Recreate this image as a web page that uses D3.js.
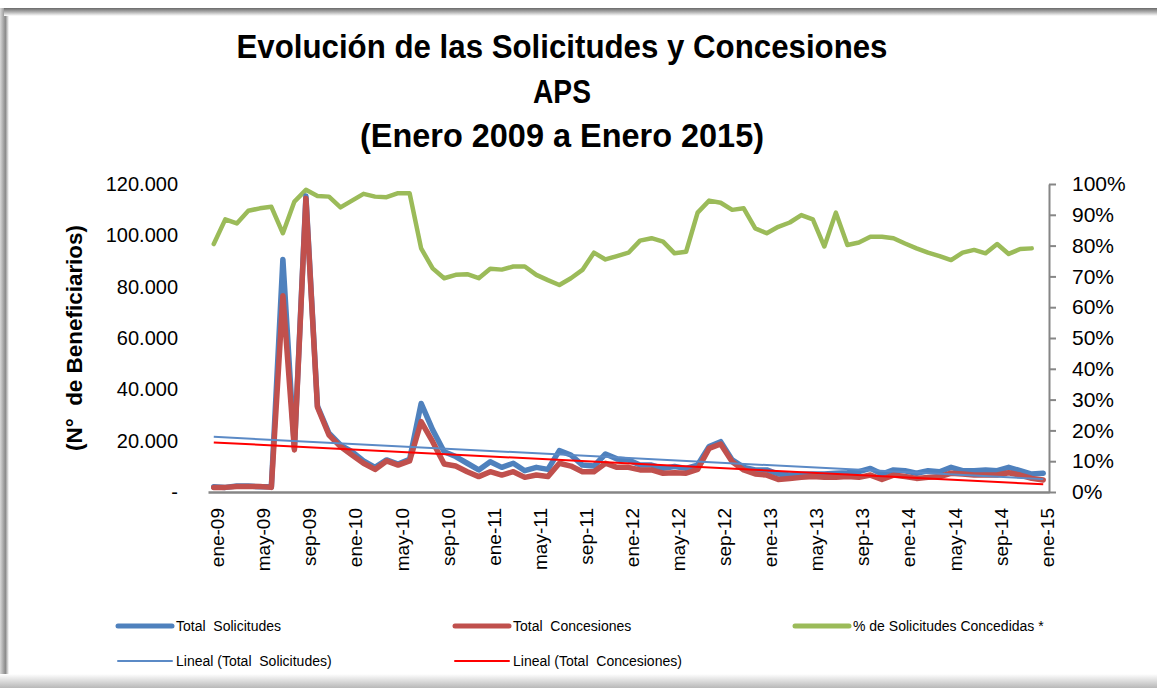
<!DOCTYPE html>
<html>
<head>
<meta charset="utf-8">
<script src="https://cdn.jsdelivr.net/npm/d3@7"></script>
<style>
  body { margin: 0; background: #fff; }
  text { font-family: "Liberation Sans", Arial, sans-serif; fill: #000; white-space: pre; }
</style>
</head>
<body>
<div id="chart"></div>
<script>
// categories: ene-09 .. ene-15
const monthNames = ['ene', 'feb', 'mar', 'abr', 'may', 'jun', 'jul', 'ago', 'sep', 'oct', 'nov', 'dic'];
const years = ['09', '10', '11', '12', '13', '14', '15'];
const tickLabels = ['ene-09', 'may-09', 'sep-09', 'ene-10', 'may-10', 'sep-10', 'ene-11', 'may-11', 'sep-11',
  'ene-12', 'may-12', 'sep-12', 'ene-13', 'may-13', 'sep-13', 'ene-14', 'may-14', 'sep-14', 'ene-15'];

const solicitudes = [
  2000, 1800, 2300, 2300, 2000, 2000, 90600, 17000, 115300, 33500,
  22900, 18300, 15700, 12100, 9600, 12500, 10900, 12700, 34500, 24200,
  15700, 13800, 11200, 8600, 11800, 9600, 11200, 8300, 9600, 8800,
  16100, 14400, 10500, 10100, 14800, 12900, 12500, 10500, 10500, 9200,
  9900, 9200, 10500, 17700, 19600, 12500, 9600, 8600, 8600, 7000,
  6600, 6900, 7000, 7000, 7300, 7500, 7900, 9200, 7000, 8600,
  8300, 7300, 8300, 7900, 9600, 8300, 8300, 8600, 8300, 9600,
  8300, 7000, 7300
];
const concesiones = [
  1800, 1800, 2100, 2100, 2100, 1800, 76500, 16400, 114400, 33000,
  22200, 17700, 14400, 11200, 8800, 12100, 10500, 12100, 27400, 19600,
  10900, 10100, 7900, 6000, 7900, 6600, 7900, 5700, 6600, 6000,
  11200, 10100, 7900, 7900, 11200, 9600, 9600, 8600, 8600, 7300,
  7500, 7300, 8800, 17000, 18700, 11800, 8600, 7000, 6600, 4900,
  5300, 5700, 6000, 5700, 5700, 6000, 5700, 6600, 4900, 6600,
  6000, 5300, 5700, 6000, 7300, 7000, 6600, 6600, 6600, 7500,
  6600, 5300, 4700
];
// % de solicitudes concedidas (ene-09 .. dic-14)
const pctConcedidas = [
  80.5, 88.5, 87.2, 91.3, 92.1, 92.6, 84.0, 94.3, 98.1, 96.1,
  95.9, 92.4, 94.6, 96.8, 95.9, 95.7, 97.0, 97.0, 79.1, 72.6,
  69.4, 70.5, 70.7, 69.4, 72.5, 72.2, 73.2, 73.2, 70.5, 68.8,
  67.2, 69.4, 72.1, 77.7, 75.5, 76.6, 77.7, 81.6, 82.4, 81.3,
  77.5, 78.0, 90.7, 94.6, 93.9, 91.6, 92.1, 85.6, 84.0, 86.1,
  87.5, 89.9, 88.5, 79.7, 90.7, 80.2, 81.0, 82.9, 82.9, 82.4,
  80.7, 79.1, 77.7, 76.6, 75.3, 77.7, 78.6, 77.5, 80.5, 77.3,
  78.9, 79.1
];
const leftTicks = [0, 20000, 40000, 60000, 80000, 100000, 120000];
const rightTicks = [0, 10, 20, 30, 40, 50, 60, 70, 80, 90, 100];

const categories = [];
years.forEach(y => monthNames.forEach(m => categories.push(`${m}-${y}`)));
categories.length = solicitudes.length;

const W = 1157, H = 688;
const plot = { left: 208, right: 1049, top: 184, bottom: 492 };

const svg = d3.select('#chart').append('svg')
  .attr('width', W)
  .attr('height', H);

// frame with shaded edges
const defs = svg.append('defs');
const grad = (id, x1, y1, x2, y2, stops) => {
  const g = defs.append('linearGradient').attr('id', id)
    .attr('x1', x1).attr('y1', y1).attr('x2', x2).attr('y2', y2);
  stops.forEach(s => g.append('stop').attr('offset', s[0]).attr('stop-color', s[1]));
};
grad('gTop', 0, 0, 0, 1, [[0, '#6a6a6a'], [0.5, '#b0b0b0'], [1, '#ffffff']]);
grad('gLeft', 0, 0, 1, 0, [[0, '#d8d8d8'], [0.6, '#8a8a8a'], [1, '#ffffff']]);
grad('gBottom', 0, 0, 0, 1, [[0, '#ffffff'], [1, '#b8b8b8']]);

svg.append('rect').attr('width', W).attr('height', H).attr('fill', '#fff');
svg.append('rect').attr('x', 0).attr('y', 8).attr('width', 9).attr('height', H - 8).attr('fill', 'url(#gLeft)');
svg.append('rect').attr('x', 4).attr('y', 8).attr('width', W - 4).attr('height', 8).attr('fill', 'url(#gTop)');
svg.append('rect').attr('x', 0).attr('y', 674).attr('width', W).attr('height', 14).attr('fill', 'url(#gBottom)');

// title
const titleLines = [
  { text: 'Evolución de las Solicitudes y Concesiones', y: 58, len: 651 },
  { text: 'APS', y: 103, len: 58 },
  { text: '(Enero 2009 a Enero 2015)', y: 147, len: 404 }
];
svg.append('g').selectAll('text')
  .data(titleLines)
  .enter().append('text')
  .attr('x', 562)
  .attr('y', d => d.y)
  .attr('text-anchor', 'middle')
  .attr('font-size', 33)
  .attr('font-weight', 'bold')
  .attr('textLength', d => d.len)
  .attr('lengthAdjust', 'spacingAndGlyphs')
  .text(d => d.text);

// scales
const x = d3.scaleBand()
  .domain(categories)
  .range([plot.left, plot.right]);
const cx = c => x(c) + x.bandwidth() / 2;

const yLeft = d3.scaleLinear()
  .domain([0, 120000])
  .range([plot.bottom, plot.top]);

const yRight = d3.scaleLinear()
  .domain([0, 100])
  .range([plot.bottom, plot.top]);

const esLocale = d3.formatLocale({ decimal: ',', thousands: '.', grouping: [3], currency: ['', ''] });
const fmtLeft = v => v === 0 ? '-' : esLocale.format(',')(v);

// left axis (no line)
const leftAxis = svg.append('g')
  .attr('transform', `translate(${plot.left - 30},0)`)
  .call(d3.axisLeft(yLeft).tickValues(leftTicks).tickFormat(fmtLeft).tickSize(0).tickPadding(0));
leftAxis.select('.domain').remove();
leftAxis.selectAll('text')
  .attr('font-family', '"Liberation Sans", Arial, sans-serif')
  .attr('font-size', 20)
  .attr('fill', '#000');

svg.append('text')
  .attr('transform', `translate(82,${(plot.top + plot.bottom) / 2}) rotate(-90)`)
  .attr('text-anchor', 'middle')
  .attr('font-size', 22)
  .attr('font-weight', 'bold')
  .attr('textLength', 226)
  .attr('lengthAdjust', 'spacingAndGlyphs')
  .text('(N°  de Beneficiarios)');

// right axis
const rightAxis = svg.append('g')
  .attr('transform', `translate(${plot.right},0)`)
  .call(d3.axisRight(yRight).tickValues(rightTicks).tickFormat(d => d + '%').tickSize(7).tickSizeOuter(0).tickPadding(16));
rightAxis.select('.domain').attr('stroke', '#868686').attr('stroke-width', 2);
rightAxis.selectAll('.tick line').attr('stroke', '#868686').attr('stroke-width', 2);
rightAxis.selectAll('text')
  .attr('font-family', '"Liberation Sans", Arial, sans-serif')
  .attr('font-size', 21)
  .attr('fill', '#000');

// bottom axis
const xAxis = svg.append('g')
  .attr('transform', `translate(0,${plot.bottom})`)
  .call(d3.axisBottom(x).tickValues(tickLabels).tickSize(0).tickSizeOuter(0).tickPadding(0));
xAxis.select('.domain').attr('stroke', '#868686').attr('stroke-width', 2.5);
xAxis.selectAll('text')
  .attr('font-family', '"Liberation Sans", Arial, sans-serif')
  .attr('font-size', 19)
  .attr('fill', '#000')
  .attr('text-anchor', 'end')
  .attr('transform', 'rotate(-90)')
  .attr('x', -16)
  .attr('y', 0)
  .attr('dx', 0)
  .attr('dy', '0.55em');

// least squares trend (Excel "Lineal")
const linearTrend = vals => {
  const n = vals.length;
  const mx = d3.mean(vals, (v, i) => i);
  const my = d3.mean(vals);
  let sxy = 0, sxx = 0;
  vals.forEach((v, i) => { sxy += (i - mx) * (v - my); sxx += (i - mx) * (i - mx); });
  const b = sxy / sxx;
  const a = my - b * mx;
  return [0, n - 1].map(i => ({ i, v: a + b * i }));
};

const lineLeft = d3.line()
  .x(d => cx(categories[d.i]))
  .y(d => yLeft(d.v));
const lineRight = d3.line()
  .x(d => cx(categories[d.i]))
  .y(d => yRight(d.v));

const toPts = arr => arr.map((v, i) => ({ i, v }));

svg.append('path')
  .datum(toPts(pctConcedidas))
  .attr('d', lineRight)
  .attr('fill', 'none')
  .attr('stroke', '#9BBB59')
  .attr('stroke-width', 4.5)
  .attr('stroke-linejoin', 'round')
  .attr('stroke-linecap', 'round');

svg.append('path')
  .datum(toPts(solicitudes))
  .attr('d', lineLeft)
  .attr('fill', 'none')
  .attr('stroke', '#4F81BD')
  .attr('stroke-width', 5.5)
  .attr('stroke-linejoin', 'round')
  .attr('stroke-linecap', 'round');

svg.append('path')
  .datum(toPts(concesiones))
  .attr('d', lineLeft)
  .attr('fill', 'none')
  .attr('stroke', '#C0504D')
  .attr('stroke-width', 5.5)
  .attr('stroke-linejoin', 'round')
  .attr('stroke-linecap', 'round');

svg.append('path')
  .datum(linearTrend(solicitudes))
  .attr('d', lineLeft)
  .attr('fill', 'none')
  .attr('stroke', '#5B8AC6')
  .attr('stroke-width', 2);

svg.append('path')
  .datum(linearTrend(concesiones))
  .attr('d', lineLeft)
  .attr('fill', 'none')
  .attr('stroke', '#FF0000')
  .attr('stroke-width', 2);

// legend
const legendItems = [
  { label: 'Total  Solicitudes', color: '#4F81BD', width: 5, x: 118, y: 626 },
  { label: 'Total  Concesiones', color: '#C0504D', width: 5, x: 455, y: 626 },
  { label: '% de Solicitudes Concedidas *', color: '#9BBB59', width: 5, x: 795, y: 626 },
  { label: 'Lineal (Total  Solicitudes)', color: '#5B8AC6', width: 2, x: 118, y: 661 },
  { label: 'Lineal (Total  Concesiones)', color: '#FF0000', width: 2, x: 455, y: 661 }
];
const legend = svg.append('g').selectAll('g')
  .data(legendItems)
  .enter().append('g')
  .attr('transform', d => `translate(${d.x},${d.y})`);
legend.append('line')
  .attr('x1', 0).attr('x2', 54)
  .attr('stroke', d => d.color)
  .attr('stroke-width', d => d.width)
  .attr('stroke-linecap', 'round');
legend.append('text')
  .attr('x', 58)
  .attr('dy', '0.35em')
  .attr('font-size', 14)
  .text(d => d.label);
</script>
</body>
</html>
